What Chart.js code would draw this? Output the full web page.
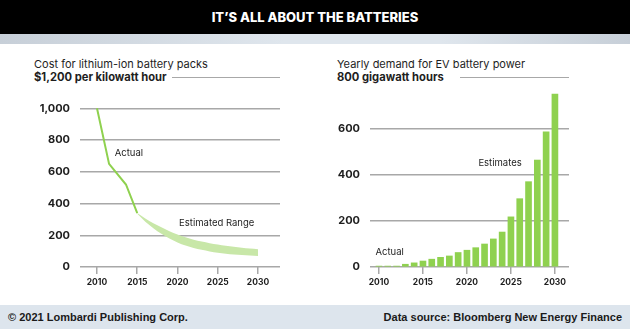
<!DOCTYPE html>
<html>
<head>
<meta charset="utf-8">
<script src="https://cdn.jsdelivr.net/npm/chart.js@4.4.1/dist/chart.umd.min.js"></script>
<style>
  body { margin: 0; width: 630px; height: 329px; background: #fff; position: relative; overflow: hidden; font-family: Inter, 'Open Sans', sans-serif; color: #1e1e1e; }
  #header { position: absolute; left: 0; top: 0; width: 630px; height: 34px; background: #000; color: #fff; font-weight: 800; font-size: 13px; text-align: center; line-height: 34px; }
  #band { position: absolute; left: 0; top: 34px; width: 630px; height: 10px; background: linear-gradient(90deg, #c7cfd8, #dfe6ed 45%, #dfe6ed 70%, #c7cfd8); }
  .cap { position: absolute; font-size: 11px; white-space: nowrap; }
  .sub { position: absolute; display: flex; align-items: center; font-size: 11.2px; font-weight: 700; white-space: nowrap; }
  .sub .rule { flex: 1; height: 0; border-top: 1.5px solid #a8a8a8; margin-left: 5px; }
  #footer { position: absolute; left: 0; top: 305px; width: 630px; height: 24px; background: #dde5ed; font-family: 'Liberation Sans', Arial, sans-serif; font-weight: 700; font-size: 11px; line-height: 24px; color: #1a1a1a; }
  #footer .l { position: absolute; left: 8px; }
  #footer .r { position: absolute; right: 8px; }
  .box { position: absolute; top: 60px; height: 240px; }
</style>
</head>
<body>
<div id="header">IT’S ALL ABOUT THE BATTERIES</div>
<div id="band"></div>

<div class="cap" style="left:34px; top:57px;">Cost for lithium-ion battery packs</div>
<div class="sub" style="left:34px; top:70px; width:246px;"><span>$1,200 per kilowatt hour</span><span class="rule"></span></div>

<div class="cap" style="left:337px; top:57px;">Yearly demand for EV battery power</div>
<div class="sub" style="left:337px; top:70px; width:232px;"><span>800 gigawatt hours</span><span class="rule" style="margin-left:16px"></span></div>

<div class="box" style="left:0; width:300px;"><canvas id="costChart"></canvas></div>
<div class="box" style="left:300px; width:330px;"><canvas id="demandChart"></canvas></div>

<div id="footer"><span class="l">© 2021 Lombardi Publishing Corp.</span><span class="r">Data source: Bloomberg New Energy Finance</span></div>

<script>
'use strict';

// chart data
let costYears = [2010, 2011.5, 2013.6, 2015];
let costActual = [1000, 650, 520, 340];

let rangeYears = [2015, 2016, 2017, 2018, 2019, 2020, 2021, 2022, 2023, 2024, 2025, 2026, 2027, 2028, 2029, 2030];
let rangeHigh = [340, 305, 275, 250, 225, 205, 188, 172, 160, 150, 142, 134, 127, 121, 116, 112];
let rangeLow = [335, 285, 245, 210, 180, 155, 135, 120, 108, 98, 90, 84, 79, 75, 72, 70];

let demandYears = [2010, 2011, 2012, 2013, 2014, 2015, 2016, 2017, 2018, 2019, 2020, 2021, 2022, 2023, 2024, 2025, 2026, 2027, 2028, 2029, 2030];
let demandValues = [4, 4, 4, 12, 18, 26, 34, 42, 48, 63, 73, 84, 100, 122, 152, 218, 297, 371, 465, 588, 752];

let yearTicks = [2010, 2015, 2020, 2025, 2030];

// colours
let green = '#8fd14f';
let bandGreen = '#c8e7a8';
let gridGray = '#a8a8a8';
let textDark = '#1e1e1e';
let fontFamily = "Inter, 'Open Sans', sans-serif";

function toPoints(xs, ys) {
  let pts = [];
  for (let i = 0; i < xs.length; i++) {
    pts.push({ x: xs[i], y: ys[i] });
  }
  return pts;
}

// small text labels placed in data coordinates
function labelPlugin(labels) {
  return {
    id: 'labels',
    afterDatasetsDraw(chart) {
      let c = chart.ctx;
      c.save();
      c.font = '9.5px ' + fontFamily;
      c.fillStyle = textDark;
      c.textBaseline = 'middle';
      c.textAlign = 'left';
      labels.forEach(function (l) {
        c.fillText(l.text, chart.scales.x.getPixelForValue(l.x), chart.scales.y.getPixelForValue(l.y));
      });
      c.restore();
    }
  };
}

function xScale(min, max) {
  return {
    type: 'linear',
    min: min,
    max: max,
    offset: false,
    afterBuildTicks: function (axis) {
      axis.ticks = yearTicks.map(function (v) { return { value: v }; });
    },
    afterFit: function (axis) { axis.height = 33; },
    border: { display: false },
    grid: { offset: false, drawOnChartArea: false, drawTicks: true, tickLength: 7, color: gridGray, lineWidth: 1.5 },
    ticks: {
      color: textDark,
      font: { family: fontFamily, size: 8.5, weight: '700' },
      padding: 3,
      maxRotation: 0,
      callback: function (v) { return String(v); }
    }
  };
}

function yScale(max, width) {
  return {
    min: 0,
    max: max,
    afterFit: function (axis) { axis.width = width; },
    border: { display: false },
    grid: {
      drawTicks: false,
      lineWidth: 1.5,
      color: function (ctx) { return ctx.tick && ctx.tick.value === max ? 'rgba(0,0,0,0)' : gridGray; }
    },
    ticks: {
      stepSize: 200,
      padding: 10,
      color: textDark,
      font: { family: fontFamily, size: 11, weight: '700' },
      callback: function (v) { return v === max ? '' : v.toLocaleString('en-US'); }
    }
  };
}

let commonOptions = {
  responsive: true,
  maintainAspectRatio: false,
  animation: false,
  plugins: { legend: { display: false }, tooltip: { enabled: false } }
};

// left: cost line + estimated range band
new Chart(document.getElementById('costChart'), {
  type: 'line',
  data: {
    datasets: [
      {
        data: toPoints(costYears, costActual),
        borderColor: green,
        borderWidth: 2,
        pointRadius: 0,
        fill: false
      },
      {
        data: toPoints(rangeYears, rangeLow),
        borderColor: bandGreen,
        borderWidth: 0,
        pointRadius: 0,
        cubicInterpolationMode: 'monotone',
        fill: false
      },
      {
        data: toPoints(rangeYears, rangeHigh),
        borderColor: bandGreen,
        borderWidth: 0,
        pointRadius: 0,
        cubicInterpolationMode: 'monotone',
        backgroundColor: bandGreen,
        fill: '-1'
      }
    ]
  },
  options: Object.assign({}, commonOptions, {
    layout: { padding: { left: 0, right: 20, top: 10, bottom: 0 } },
    scales: { x: xScale(2007.89, 2032.73), y: yScale(1200, 80) }
  }),
  plugins: [labelPlugin([
    { text: 'Actual', x: 2012.2, y: 720 },
    { text: 'Estimated Range', x: 2020.2, y: 276 }
  ])]
});

// right: yearly demand bars
new Chart(document.getElementById('demandChart'), {
  type: 'bar',
  data: {
    datasets: [{
      data: toPoints(demandYears, demandValues),
      backgroundColor: green,
      barThickness: 6
    }]
  },
  options: Object.assign({}, commonOptions, {
    layout: { padding: { left: 0, right: 61, top: 23, bottom: 0 } },
    scales: { x: xScale(2008.98, 2031.6), y: yScale(800, 70) }
  }),
  plugins: [labelPlugin([
    { text: 'Actual', x: 2009.6, y: 66 },
    { text: 'Estimates', x: 2021.3, y: 453 }
  ])]
});
</script>
</body>
</html>
